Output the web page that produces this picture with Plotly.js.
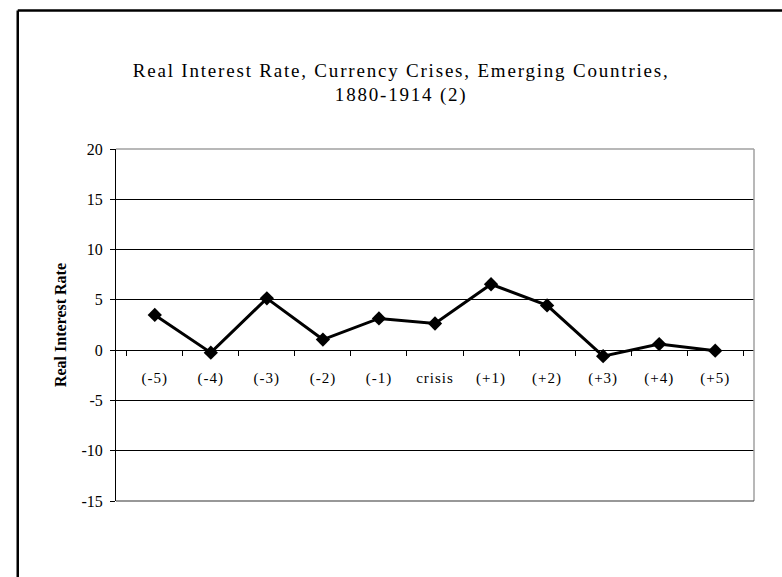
<!DOCTYPE html>
<html>
<head>
<meta charset="utf-8">
<script src="https://cdn.plot.ly/plotly-3.0.1.min.js"></script>
<style>
  html, body { margin: 0; padding: 0; background: #fff; }
  #grafico { width: 782px; height: 577px; }
  .gtitle { letter-spacing: 1.8px; }
  .xtick text { letter-spacing: 1px; }
</style>
</head>
<body>
<div id="grafico"></div>
<script>
// periodos alrededor de la crisis
var periodos = ['(-5)', '(-4)', '(-3)', '(-2)', '(-1)', 'crisis',
  '(+1)', '(+2)', '(+3)', '(+4)', '(+5)'];

// tasa de interes real
var tasaReal = [3.5, -0.25, 5.15, 1.05, 3.15, 2.65,
  6.55, 4.45, -0.6, 0.6, -0.05];

// marcas del eje y (con guion simple como en el original)
var marcasY = [-15, -10, -5, 0, 5, 10, 15, 20];
var textoY = ['-15', '-10', '-5', '0', '5', '10', '15', '20'];

var marcoGris = '#a0a0a0';
var fuente = 'Liberation Serif, Times New Roman, serif';

var trace1 = {
  x: periodos,
  y: tasaReal,
  type: 'scatter',
  mode: 'lines+markers',
  line: {color: '#000', width: 3},
  marker: {symbol: 'diamond', size: 11, color: '#000'},
  hoverinfo: 'none',
  showlegend: false
};

var layout = {
  width: 782,
  height: 577,
  margin: {l: 116, r: 28, t: 149, b: 76},
  paper_bgcolor: '#fff',
  plot_bgcolor: '#fff',
  font: {family: fuente, color: '#000', size: 14},
  title: {
    text: 'Real Interest Rate, Currency Crises, Emerging Countries,<br>1880-1914 (2)',
    font: {family: fuente, size: 19, color: '#000'},
    xref: 'paper',
    x: 0.447,
    xanchor: 'center',
    yref: 'container',
    y: 0.867,
    yanchor: 'top'
  },
  xaxis: {
    type: 'category',
    anchor: 'free',
    position: 15 / 35,
    showline: true,
    linecolor: '#000',
    linewidth: 1,
    ticks: 'outside',
    tickson: 'boundaries',
    ticklen: 5,
    tickcolor: '#000',
    ticklabelstandoff: 14,
    tickfont: {family: fuente, size: 15, color: '#000'},
    showgrid: false,
    zeroline: false,
    fixedrange: true
  },
  yaxis: {
    range: [-15, 20],
    tickmode: 'array',
    tickvals: marcasY,
    ticktext: textoY,
    showline: true,
    linecolor: '#000',
    linewidth: 1,
    ticks: 'outside',
    ticklen: 5,
    tickcolor: '#000',
    ticklabelstandoff: 4,
    tickfont: {family: fuente, size: 16, color: '#000'},
    showgrid: true,
    gridcolor: '#000',
    gridwidth: 1,
    zeroline: true,
    zerolinecolor: '#000',
    zerolinewidth: 1,
    title: {
      text: 'Real Interest Rate',
      font: {family: fuente, size: 16, weight: 'bold', color: '#000'},
      standoff: 10
    },
    fixedrange: true
  },
  shapes: [
    // borde del area de grafico
    {type: 'line', xref: 'paper', yref: 'paper', x0: 0, x1: 1, y0: 1, y1: 1,
      line: {color: marcoGris, width: 1.5}},
    {type: 'line', xref: 'paper', yref: 'paper', x0: 1, x1: 1, y0: 0, y1: 1,
      line: {color: marcoGris, width: 1.5}},
    {type: 'line', xref: 'paper', yref: 'paper', x0: 0, x1: 1, y0: 0, y1: 0,
      line: {color: '#333', width: 1.2}},
    // marco exterior
    {type: 'line', xref: 'paper', yref: 'paper', x0: -0.154, x1: 1.1, y0: 1.3935, y1: 1.3935,
      line: {color: '#000', width: 2.5}},
    {type: 'line', xref: 'paper', yref: 'paper', x0: -0.154, x1: -0.154, y0: -0.3, y1: 1.3935,
      line: {color: '#000', width: 2.5}}
  ]
};

Plotly.newPlot('grafico', [trace1], layout, {displayModeBar: false, responsive: false});
</script>
</body>
</html>
